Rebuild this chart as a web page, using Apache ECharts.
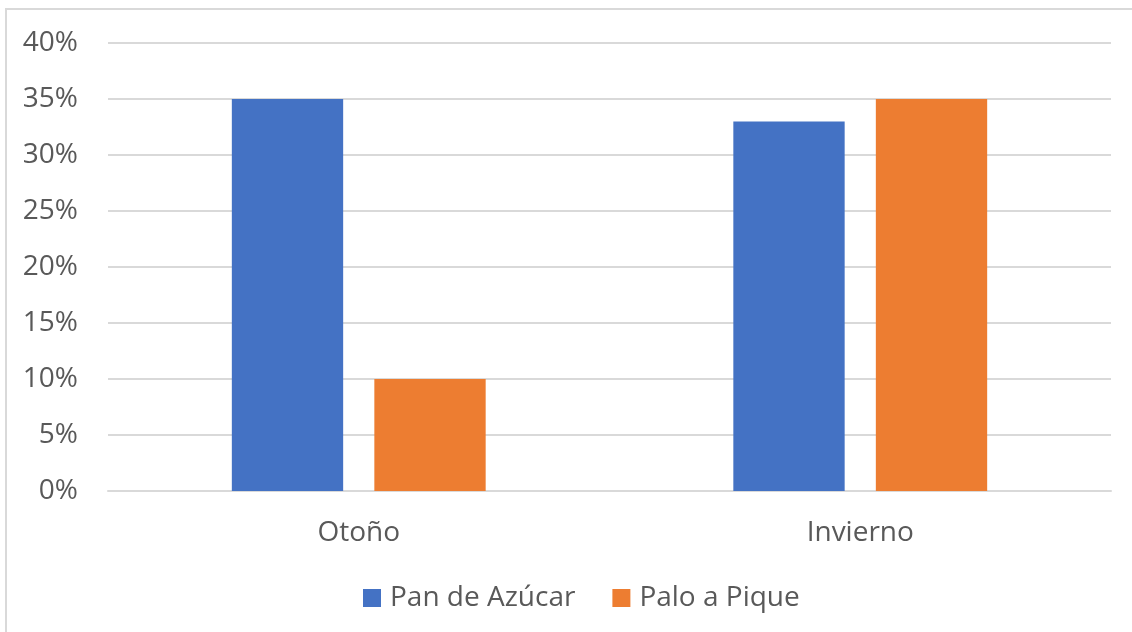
<!DOCTYPE html>
<html>
<head>
<meta charset="utf-8">
<script src="https://cdn.jsdelivr.net/npm/echarts@6/dist/echarts.min.js"></script>
<style>
html,body{margin:0;padding:0;background:#fff;}
#chart{width:1132px;height:632px;}
</style>
</head>
<body>
<div id="chart"></div>
<script>
var categories = ['Otoño', 'Invierno'];
var panDeAzucar = [35, 33];
var paloAPique = [10, 35];
var yTicks = [0, 5, 10, 15, 20, 25, 30, 35, 40];

var chart = echarts.init(document.getElementById('chart'));
var font = '"Open Sans", "Noto Sans", sans-serif';
var option = {
  animation: false,
  backgroundColor: '#fff',
  textStyle: { fontFamily: font },
  graphic: [{
    type: 'rect',
    shape: { x: 6, y: 9, width: 1200, height: 700 },
    style: { fill: 'none', stroke: '#d9d9d9', lineWidth: 2 },
    silent: true
  }],
  grid: { left: 108, right: 21, top: 43, bottom: 141 },
  legend: {
    top: 579,
    left: 358,
    itemWidth: 18,
    itemHeight: 18,
    itemGap: 37,
    icon: 'rect',
    textStyle: { fontSize: 28, color: '#595959', fontFamily: font, padding: [0, 0, 0, 4] },
    data: ['Pan de Azúcar', 'Palo a Pique']
  },
  xAxis: {
    type: 'category',
    data: categories,
    axisLine: { lineStyle: { color: '#d9d9d9', width: 2 } },
    axisTick: { show: false },
    axisLabel: { fontSize: 28, color: '#595959', margin: 28, fontFamily: font }
  },
  yAxis: {
    type: 'value',
    min: yTicks[0],
    max: yTicks[yTicks.length - 1],
    interval: 5,
    axisLine: { show: false },
    axisTick: { show: false },
    splitLine: { lineStyle: { color: '#d9d9d9', width: 2 } },
    axisLabel: { fontSize: 28, color: '#595959', margin: 30, fontFamily: font, formatter: '{value}%' }
  },
  series: [
    {
      name: 'Pan de Azúcar',
      type: 'bar',
      data: panDeAzucar,
      barWidth: '22.2%',
      barGap: '28%',
      itemStyle: { color: '#4472C4' }
    },
    {
      name: 'Palo a Pique',
      type: 'bar',
      data: paloAPique,
      barWidth: '22.2%',
      itemStyle: { color: '#ED7D31' }
    }
  ]
};
chart.setOption(option);
</script>
</body>
</html>
